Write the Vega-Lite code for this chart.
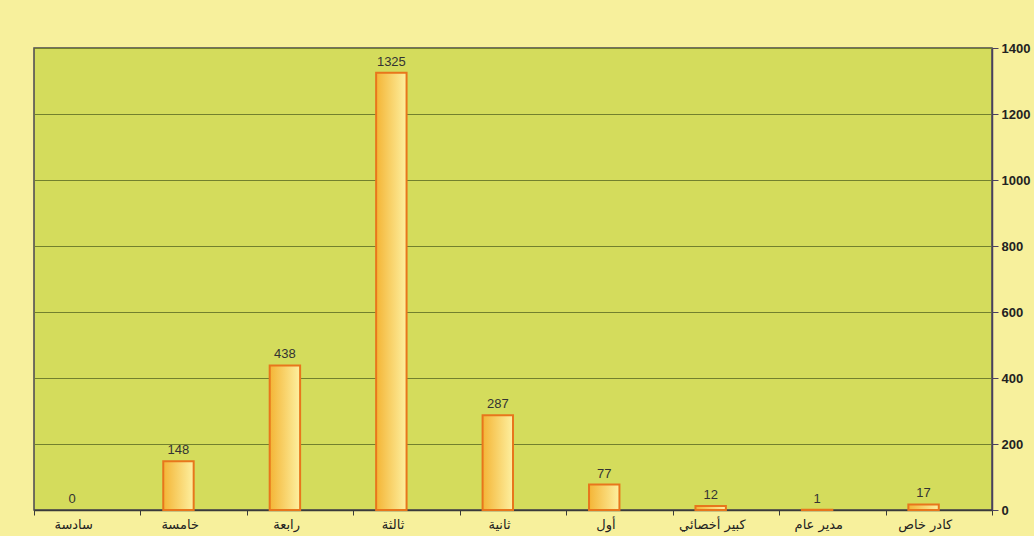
{
  "$schema": "https://vega.github.io/schema/vega-lite/v6.json",
  "width": 958,
  "height": 462,
  "padding": {"left": 33, "top": 42, "right": 5, "bottom": 5},
  "background": "#f7f09c",
  "config": {"view": {"fill": "#d4dc5c", "stroke": "#4a4650", "strokeWidth": 1.5}},
  "data": {
    "values": [
      {"cat": "سادسة", "value": 0, "series": "a"},
      {"cat": "خامسة", "value": 148, "series": "a"},
      {"cat": "رابعة", "value": 438, "series": "a"},
      {"cat": "ثالثة", "value": 1325, "series": "a"},
      {"cat": "ثانية", "value": 287, "series": "a"},
      {"cat": "أول", "value": 77, "series": "a"},
      {"cat": "كبير أخصائي", "value": 12, "series": "a"},
      {"cat": "مدير عام", "value": 1, "series": "a"},
      {"cat": "كادر خاص", "value": 17, "series": "a"}
    ]
  },
  "encoding": {
    "x": {
      "field": "cat", "type": "nominal", "sort": null,
      "scale": {"paddingInner": 0, "paddingOuter": 0},
      "axis": {
        "title": null, "labelAngle": 0, "tickBand": "extent", "tickSize": 5,
        "tickColor": "#3a3a3a", "domainColor": "#3a3a3a", "domainWidth": 1.5,
        "labelFont": "DejaVu Sans", "labelFontSize": 13, "labelColor": "#222222",
        "labelOffset": -14, "labelPadding": 3, "grid": false
      }
    },
    "xOffset": {
      "field": "series", "type": "nominal",
      "scale": {"domain": ["a", "b"], "paddingOuter": 0.75, "paddingInner": 0}
    },
    "y": {
      "field": "value", "type": "quantitative",
      "scale": {"domain": [0, 1400], "nice": false},
      "axis": {
        "orient": "right", "title": null, "values": [0, 200, 400, 600, 800, 1000, 1200, 1400],
        "format": "d",
        "grid": true, "gridColor": "#72802e", "gridWidth": 1,
        "tickSize": 6, "tickColor": "#4a4060", "domainColor": "#4a4060", "domainWidth": 1.5,
        "labelFont": "Liberation Sans", "labelFontSize": 13, "labelFontWeight": "bold",
        "labelColor": "#222222", "labelPadding": 3
      }
    }
  },
  "layer": [
    {
      "mark": {
        "type": "bar",
        "stroke": "#e8761c",
        "fill": {
          "gradient": "linear", "x1": 0, "y1": 0, "x2": 1, "y2": 0,
          "stops": [
            {"offset": 0, "color": "#f4b536"},
            {"offset": 1, "color": "#fdf0a0"}
          ]
        }
      },
      "encoding": {
        "strokeWidth": {"condition": {"test": "datum.value == 0", "value": 0}, "value": 2}
      }
    },
    {
      "mark": {"type": "text", "baseline": "bottom", "dy": -4, "font": "Liberation Sans", "fontSize": 13, "color": "#333333"},
      "encoding": {"text": {"field": "value", "type": "quantitative"}}
    }
  ]
}
